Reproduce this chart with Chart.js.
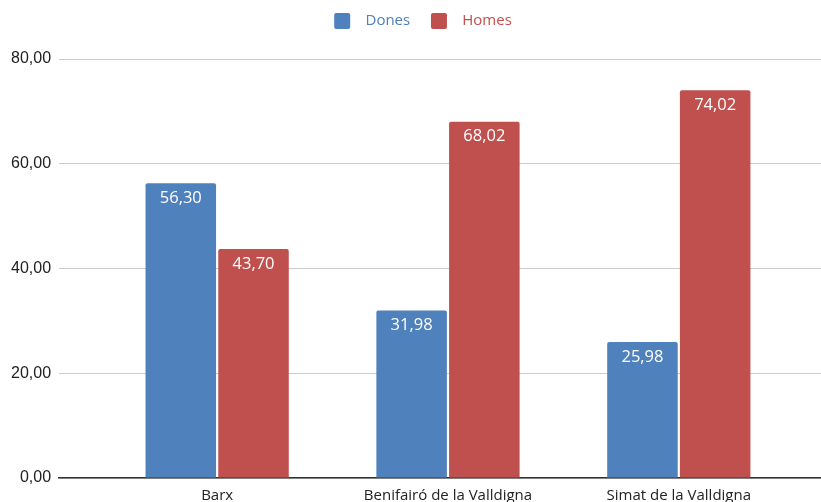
<!DOCTYPE html>
<html>
<head>
<meta charset="utf-8">
<script src="https://cdn.jsdelivr.net/npm/chart.js@4/dist/chart.umd.min.js"></script>
<style>
  html, body { margin: 0; padding: 0; background: #fff; overflow: hidden; }
  #wrap { width: 821px; height: 514px; position: relative; }
</style>
</head>
<body>
<div id="wrap"><canvas id="chart"></canvas></div>
<script>
// ---- data ----
const municipis = ['Barx', 'Benifairó de la Valldigna', 'Simat de la Valldigna'];
const dones = [56.30, 31.98, 25.98];
const homes = [43.70, 68.02, 74.02];
const yTicks = [0, 20, 40, 60, 80];

const BLUE = '#4f81bd';
const RED = '#c0504d';
const fmt = v => v.toFixed(2).replace('.', ',');

// white value labels inside the top of each bar
const valueLabels = {
  id: 'valueLabels',
  afterDatasetsDraw(chart) {
    const { ctx } = chart;
    ctx.save();
    ctx.fillStyle = '#fff';
    ctx.font = '16.5px "Open Sans", sans-serif';
    ctx.textAlign = 'center';
    ctx.textBaseline = 'middle';
    chart.data.datasets.forEach((ds, di) => {
      chart.getDatasetMeta(di).data.forEach((bar, i) => {
        ctx.fillText(fmt(ds.data[i].y), bar.x, bar.y + 15);
      });
    });
    ctx.restore();
  }
};

// legend block takes a fixed height so the plot starts lower, and sits a bit right of centre
const legendTweak = {
  id: 'legendTweak',
  beforeInit(chart) {
    const fit = chart.legend.fit;
    chart.legend.fit = function () { fit.call(this); this.height = 59; };
  },
  afterLayout(chart) {
    chart.legend.left += 11;
    chart.legend.right += 11;
  }
};

new Chart(document.getElementById('chart'), {
  type: 'bar',
  data: {
    datasets: [
      { label: 'Dones', data: dones.map((v, i) => ({ x: i, y: v })), backgroundColor: BLUE, borderRadius: 2 },
      { label: 'Homes', data: homes.map((v, i) => ({ x: i, y: v })), backgroundColor: RED, borderRadius: 2 },
    ]
  },
  options: {
    responsive: true, maintainAspectRatio: false, animation: false,
    categoryPercentage: 0.63, barPercentage: 0.97,
    layout: { padding: { left: 3, right: 0, top: 0, bottom: 0 } },
    scales: {
      x: {
        type: 'linear', min: -0.685, max: 2.616, offset: false,
        afterBuildTicks: s => { s.ticks = municipis.map((_, i) => ({ value: i })); },
        grid: { display: false, drawTicks: false },
        border: { display: true, color: '#333', width: 1.5 },
        ticks: { color: '#222', padding: 9, font: { family: 'Open Sans', size: 15 },
                 autoSkip: false, maxRotation: 0, callback: v => municipis[v] ?? '' },
      },
      y: {
        min: 0, max: 80,
        afterBuildTicks: s => { s.ticks = yTicks.map(v => ({ value: v })); },
        grid: { color: '#cccccc', drawTicks: false },
        border: { display: false },
        ticks: { color: '#222', padding: 8, font: { family: 'Liberation Sans', size: 16 }, callback: v => fmt(v) },
      }
    },
    plugins: {
      legend: {
        position: 'top',
        labels: {
          font: { family: 'Open Sans', size: 15 }, boxWidth: 16, boxHeight: 16, padding: 13,
          generateLabels: chart => chart.data.datasets.map((ds, i, all) => ({
            text: '  ' + ds.label + (i < all.length - 1 ? '  ' : ''),
            fillStyle: ds.backgroundColor, strokeStyle: ds.backgroundColor,
            lineWidth: 0, fontColor: ds.backgroundColor, datasetIndex: i, borderRadius: 2,
          })),
          useBorderRadius: true, borderRadius: 2,
        }
      },
      tooltip: { enabled: false },
    },
  },
  plugins: [valueLabels, legendTweak],
});
</script>
</body>
</html>
